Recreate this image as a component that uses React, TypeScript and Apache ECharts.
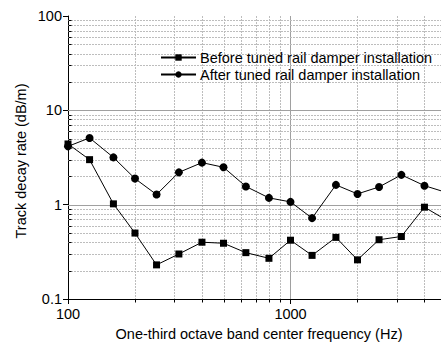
import React, { useEffect, useRef } from "react";
import * as echarts from "echarts";

const frequencies = [100, 125, 160, 200, 250, 315, 400, 500, 630, 800, 1000, 1250, 1600, 2000, 2500, 3150, 4000, 5000];
const beforeValues = [4.4, 3.0, 1.02, 0.5, 0.23, 0.3, 0.4, 0.39, 0.31, 0.27, 0.42, 0.29, 0.45, 0.26, 0.425, 0.46, 0.94, 0.69];
const afterValues = [4.15, 5.1, 3.17, 1.89, 1.28, 2.2, 2.79, 2.49, 1.56, 1.18, 1.07, 0.72, 1.62, 1.3, 1.54, 2.07, 1.59, 1.35];

const xMinorGrid = [200, 300, 400, 500, 600, 700, 800, 900, 2000, 3000, 4000, 5000, 6000, 7000, 8000, 9000];
const xMajorGrid = [1000];
const yMinorGrid = [0.2, 0.3, 0.4, 0.5, 0.6, 0.7, 0.8, 0.9, 2, 3, 4, 5, 6, 7, 8, 9, 20, 30, 40, 50, 60, 70, 80, 90];
const yMajorGrid = [1, 10];

const seriesNames = ["Before tuned rail damper installation", "After tuned rail damper installation"];
const xTitle = "One-third octave band center frequency (Hz)";
const yTitle = "Track decay rate (dB/m)";

const FONT = 'Arial, "Liberation Sans", sans-serif';

export default function App() {
  const ref = useRef<HTMLDivElement>(null);
  useEffect(() => {
    if (!ref.current) return;
    const chart = echarts.init(ref.current, undefined, { renderer: "svg" });

    const gridData: number[][] = [];
    xMinorGrid.forEach((v) => gridData.push([v, 1, 0]));
    xMajorGrid.forEach((v) => gridData.push([v, 1, 1]));
    yMinorGrid.forEach((v) => gridData.push([100, v, 2]));
    yMajorGrid.forEach((v) => gridData.push([100, v, 3]));
    xMinorGrid.forEach((v) => gridData.push([v, 1, 4]));
    yMinorGrid.forEach((v) => gridData.push([100, v, 5]));

    const option: any = {
      animation: false,
      backgroundColor: "#ffffff",
      textStyle: { fontFamily: FONT },
      grid: { left: 68, top: 16, width: 445, height: 283 },
      legend: {
        data: seriesNames,
        orient: "vertical",
        left: 160,
        top: 50,
        padding: 0,
        itemWidth: 35,
        itemHeight: 8,
        itemGap: 2,
        textStyle: { color: "#000", fontSize: 14.5, fontFamily: FONT, padding: [0, 0, 0, -1] },
      },
      xAxis: {
        type: "log",
        logBase: 10,
        min: 100,
        max: 10000,
        axisLine: { show: true, onZero: false, lineStyle: { color: "#000", width: 1 } },
        axisTick: { show: true, inside: false, length: 5, lineStyle: { color: "#000" } },
        axisLabel: {
          color: "#000",
          fontSize: 14.5,
          margin: 7,
          fontFamily: FONT,
          showMaxLabel: false,
          formatter: (v: number) => (v >= 10000 ? "" : String(Math.round(v))),
        },
        splitLine: { show: false },
        minorTick: { show: false },
      },
      yAxis: {
        type: "log",
        logBase: 10,
        min: 0.1,
        max: 100,
        axisLine: { show: true, onZero: false, lineStyle: { color: "#000", width: 1 } },
        axisTick: { show: true, inside: false, length: 5, lineStyle: { color: "#000" } },
        axisLabel: {
          color: "#000",
          fontSize: 14.5,
          margin: 6,
          fontFamily: FONT,
          formatter: (v: number) => String(+v.toPrecision(3)),
        },
        splitLine: { show: false },
        minorTick: { show: false },
      },
      graphic: [
        {
          type: "text",
          x: 259,
          y: 334,
          style: {
            text: xTitle,
            fill: "#000",
            font: `14.5px ${FONT}`,
            textAlign: "center",
            textVerticalAlign: "middle",
          },
        },
        {
          type: "text",
          x: 21,
          y: 161,
          rotation: Math.PI / 2,
          style: {
            text: yTitle,
            fill: "#000",
            font: `14.5px ${FONT}`,
            textAlign: "center",
            textVerticalAlign: "middle",
          },
        },
      ],
      series: [
        {
          type: "custom",
          name: "grid",
          silent: true,
          clip: false,
          z: 1,
          data: gridData,
          encode: { x: 0, y: 1 },
          renderItem: (params: any, api: any) => {
            const cs = params.coordSys;
            const kind = api.value(2);
            const p = api.coord([api.value(0), api.value(1)]);
            const px = Math.round(p[0]) + 0.5;
            const py = Math.round(p[1]) + 0.5;
            let shape: any;
            let style: any;
            const minorStyle = { stroke: "#bdbdbd", lineWidth: 1, lineDash: [2, 1] };
            const majorStyle = { stroke: "#a0a0a0", lineWidth: 1 };
            const tickStyle = { stroke: "#000", lineWidth: 1 };
            if (kind === 0 || kind === 1) {
              shape = { x1: px, y1: cs.y, x2: px, y2: cs.y + cs.height };
              style = kind === 0 ? minorStyle : majorStyle;
            } else if (kind === 2 || kind === 3) {
              shape = { x1: cs.x, y1: py, x2: cs.x + cs.width, y2: py };
              style = kind === 2 ? minorStyle : majorStyle;
            } else if (kind === 4) {
              const yb = Math.round(cs.y + cs.height) + 0.5;
              shape = { x1: px, y1: yb, x2: px, y2: yb + 3 };
              style = tickStyle;
            } else {
              const xl = Math.round(cs.x) + 0.5;
              shape = { x1: xl, y1: py, x2: xl + 3, y2: py };
              style = tickStyle;
            }
            return { type: "line", shape, style };
          },
        },
        {
          type: "line",
          name: seriesNames[0],
          z: 3,
          data: frequencies.map((f, i) => [f, beforeValues[i]]),
          symbol: "rect",
          symbolSize: 7,
          lineStyle: { color: "#000", width: 1 },
          itemStyle: { color: "#000" },
          clip: false,
        },
        {
          type: "line",
          name: seriesNames[1],
          z: 3,
          data: frequencies.map((f, i) => [f, afterValues[i]]),
          symbol: "circle",
          symbolSize: 8,
          lineStyle: { color: "#000", width: 1 },
          itemStyle: { color: "#000" },
          clip: false,
        },
      ],
    };
    chart.setOption(option);
    return () => chart.dispose();
  }, []);

  return (
    <div
      style={{
        position: "fixed",
        left: 0,
        top: 0,
        width: 441,
        height: 352,
        overflow: "hidden",
        background: "#fff",
      }}
    >
      <div ref={ref} style={{ width: 540, height: 352 }} />
    </div>
  );
}
